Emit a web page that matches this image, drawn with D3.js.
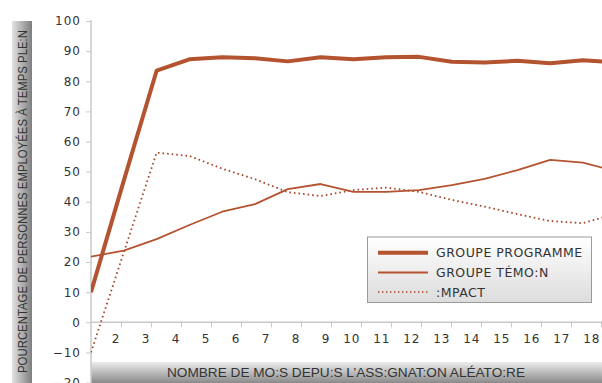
<!DOCTYPE html>
<html>
<head>
<meta charset="utf-8">
<script src="https://cdn.jsdelivr.net/npm/d3@7"></script>
<style>
  body { margin: 0; background: #fff; }
  svg { display: block; }
</style>
</head>
<body>
<script>
// Data. Points are evenly spaced, one per survey point.
const points = [1, 2, 3, 4, 5, 6, 7, 8, 9, 10, 11, 12, 13, 14, 15, 16, 17];
const programme = [10, 47, 83.5, 87.3, 88.0, 87.6, 86.6, 88.0, 87.3, 88.0, 88.1, 86.5, 86.2, 86.8, 86.0, 87.0, 86.2];
const temoin    = [21.8, 23.8, 27.6, 32.3, 36.7, 39.2, 44.2, 45.9, 43.3, 43.3, 43.9, 45.5, 47.6, 50.5, 53.9, 53.0, 50.1];
const impact    = [-10, 23.2, 56.3, 55.2, 51.0, 47.5, 43.2, 41.9, 43.9, 44.7, 43.3, 40.6, 38.4, 35.9, 33.6, 32.9, 36.0];

const monthTicks = [2, 3, 4, 5, 6, 7, 8, 9, 10, 11, 12, 13, 14, 15, 16, 17, 18];
const yTicks = [100, 90, 80, 70, 60, 50, 40, 30, 20, 10, 0, -10, -20];

const legendLabels = ["GROUPE PROGRAMME", "GROUPE TÉMO:N", ":MPACT"];
const yTitle = "POURCENTAGE DE PERSONNES EMPLOYÉES À TEMPS PLE:N";
const xTitle = "NOMBRE DE MO:S DEPU:S L’ASS:GNAT:ON ALÉATO:RE";

const outerWidth = 602, outerHeight = 383;
const color = "#b4532f";
const textColor = "#333";
const font = "'DejaVu Sans', sans-serif";

const svg = d3.select("body").append("svg")
    .attr("width", outerWidth)
    .attr("height", outerHeight);

const defs = svg.append("defs");

const gy = defs.append("linearGradient").attr("id", "ybar")
    .attr("x1", 0).attr("y1", 0).attr("x2", 1).attr("y2", 0);
gy.append("stop").attr("offset", "0%").attr("stop-color", "#e2e2e2");
gy.append("stop").attr("offset", "100%").attr("stop-color", "#7e7e7e");

const gx = defs.append("linearGradient").attr("id", "xbar")
    .attr("x1", 0).attr("y1", 0).attr("x2", 0).attr("y2", 1);
gx.append("stop").attr("offset", "0%").attr("stop-color", "#ececec");
gx.append("stop").attr("offset", "100%").attr("stop-color", "#8a8a8a");

const gl = defs.append("linearGradient").attr("id", "legbg")
    .attr("x1", 0).attr("y1", 0).attr("x2", 0).attr("y2", 1);
gl.append("stop").attr("offset", "0%").attr("stop-color", "#ffffff");
gl.append("stop").attr("offset", "100%").attr("stop-color", "#dcdcdc");

defs.append("clipPath").attr("id", "plotclip")
    .append("rect").attr("x", 91).attr("y", 0).attr("width", 511).attr("height", outerHeight);

// scales
const yScale = d3.scaleLinear().domain([0, 100]).range([322.3, 21]);
const xAxisScale = d3.scaleLinear().domain([1, 18]).range([91, 601]);
// the plotted series run a little wider than the month labels and get cut at the right edge
const xScale = d3.scaleLinear().domain([1, 17]).range([91, 615.8]);

// y title bar
svg.append("rect")
    .attr("x", 12).attr("y", 21).attr("width", 20).attr("height", outerHeight - 21)
    .attr("fill", "url(#ybar)");
svg.append("text")
    .attr("transform", "translate(26.5," + 201.5 + ") rotate(-90)")
    .attr("text-anchor", "middle")
    .attr("font-family", "'Liberation Sans', sans-serif")
    .attr("font-size", 12.5)
    .attr("fill", textColor)
    .attr("textLength", 343)
    .attr("lengthAdjust", "spacingAndGlyphs")
    .text(yTitle);

// x title bar
svg.append("rect")
    .attr("x", 91).attr("y", 362).attr("width", outerWidth - 91).attr("height", 21)
    .attr("fill", "url(#xbar)");
svg.append("text")
    .attr("x", 346).attr("y", 377)
    .attr("text-anchor", "middle")
    .attr("font-family", "'Liberation Sans', sans-serif")
    .attr("font-size", 13)
    .attr("fill", textColor)
    .attr("textLength", 358)
    .attr("lengthAdjust", "spacingAndGlyphs")
    .text(xTitle);

// y axis
const yAxis = d3.axisLeft(yScale)
    .tickValues(yTicks)
    .tickSize(5)
    .tickPadding(5)
    .tickFormat(d3.format("d"));

const yAxisG = svg.append("g")
    .attr("transform", "translate(91,0)")
    .call(yAxis);
yAxisG.select(".domain").remove();
yAxisG.selectAll(".tick line").attr("stroke", "#c8c8c8");
yAxisG.selectAll(".tick text")
    .attr("font-family", font)
    .attr("font-size", 12)
    .attr("letter-spacing", 1)
    .attr("fill", textColor);

svg.append("line")
    .attr("x1", 91).attr("x2", 91)
    .attr("y1", 20).attr("y2", outerHeight)
    .attr("stroke", "#c8c8c8").attr("stroke-width", 1.5);

// x axis on the zero line
const xAxis = d3.axisBottom(xAxisScale)
    .tickValues(monthTicks)
    .tickSize(5)
    .tickFormat(d3.format("d"));

const xAxisG = svg.append("g")
    .attr("transform", `translate(0,${yScale(0)})`)
    .call(xAxis);
xAxisG.select(".domain").remove();
xAxisG.selectAll(".tick line").attr("stroke", "#c8c8c8");
xAxisG.selectAll(".tick text")
    .attr("text-anchor", "end")
    .attr("x", -1)
    .attr("y", 12)
    .attr("font-family", font)
    .attr("font-size", 12)
    .attr("letter-spacing", 1)
    .attr("fill", textColor);

svg.append("line")
    .attr("x1", 91).attr("x2", outerWidth)
    .attr("y1", yScale(0)).attr("y2", yScale(0))
    .attr("stroke", "#c8c8c8").attr("stroke-width", 1.5);

// lines
const plot = svg.append("g").attr("clip-path", "url(#plotclip)");

const line = d3.line()
    .x((d, i) => xScale(points[i]))
    .y(d => yScale(d));

plot.append("path")
    .attr("d", line(impact))
    .attr("fill", "none")
    .attr("stroke", "#a8472a")
    .attr("stroke-width", 1.8)
    .attr("stroke-dasharray", "1.6,3");

plot.append("path")
    .attr("d", line(temoin))
    .attr("fill", "none")
    .attr("stroke", color)
    .attr("stroke-width", 1.8)
    .attr("stroke-linejoin", "round");

plot.append("path")
    .attr("d", line(programme))
    .attr("fill", "none")
    .attr("stroke", color)
    .attr("stroke-width", 4)
    .attr("stroke-linejoin", "round");

// legend
const legend = svg.append("g");
legend.append("rect")
    .attr("x", 367.5).attr("y", 237).attr("width", 224).attr("height", 65.5)
    .attr("fill", "url(#legbg)")
    .attr("stroke", "#9a9a9a").attr("stroke-width", 1);

const legendStyles = [
    {w: 4, dash: null, c: color},
    {w: 1.8, dash: null, c: color},
    {w: 1.6, dash: "1.4,2.6", c: "#a8472a"}
];
const legendY = [252.7, 272.5, 292];

legendLabels.forEach((label, i) => {
    const l = legend.append("line")
        .attr("x1", 378).attr("x2", 428)
        .attr("y1", legendY[i]).attr("y2", legendY[i])
        .attr("stroke", legendStyles[i].c)
        .attr("stroke-width", legendStyles[i].w);
    if (legendStyles[i].dash) l.attr("stroke-dasharray", legendStyles[i].dash);
    legend.append("text")
        .attr("x", 436).attr("y", legendY[i])
        .attr("dy", "0.36em")
        .attr("font-family", font)
        .attr("font-size", 12.5)
        .attr("letter-spacing", 0.5)
        .attr("fill", textColor)
        .text(label);
});
</script>
</body>
</html>
